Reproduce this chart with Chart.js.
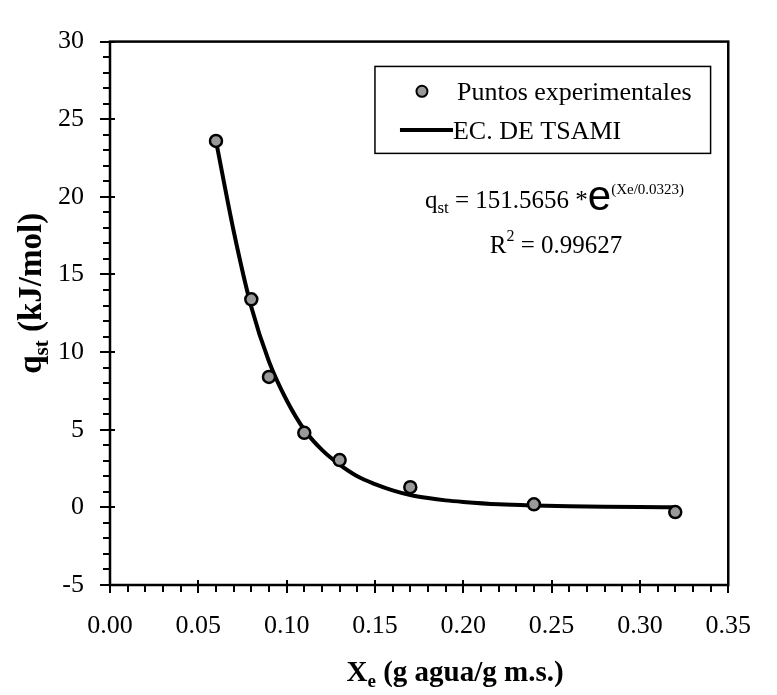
<!DOCTYPE html>
<html>
<head>
<meta charset="utf-8">
<script src="https://cdn.jsdelivr.net/npm/chart.js@4"></script>
<style>
  html, body { margin: 0; padding: 0; background: #fff; }
  #wrap { width: 777px; height: 695px; }
</style>
</head>
<body>
<div id="wrap"><canvas id="grafico" width="777" height="695"></canvas></div>
<script>
// puntos experimentales
const xPuntos = [0.06, 0.08, 0.09, 0.11, 0.13, 0.17, 0.24, 0.32];
const yPuntos = [23.6, 13.4, 8.4, 4.8, 3.05, 1.3, 0.2, -0.3];

// curva de Tsami
const xCurva = [0.06, 0.07, 0.08, 0.09, 0.10, 0.11, 0.12, 0.13, 0.14, 0.15, 0.16, 0.17, 0.18, 0.19, 0.20, 0.22, 0.24, 0.26, 0.28, 0.30, 0.32];
const yCurva = [23.6, 17.8, 12.9, 9.4, 6.9, 5.0, 3.7, 2.75, 2.0, 1.5, 1.1, 0.8, 0.6, 0.45, 0.35, 0.2, 0.12, 0.07, 0.04, 0.02, 0.01];

const xTicks = [0, 0.05, 0.10, 0.15, 0.20, 0.25, 0.30, 0.35];
const yTicks = [-5, 0, 5, 10, 15, 20, 25, 30];

const serif = "'Liberation Serif', 'Times New Roman', serif";

function partes(c, trozos) {
    // ancho total de una lista de [texto, fuente, desplazamiento]
    let w = 0;
    trozos.forEach(t => { c.font = t[1]; w += c.measureText(t[0]).width; });
    return w;
}

function escribir(c, trozos, x, y) {
    trozos.forEach(t => {
        c.font = t[1];
        c.fillText(t[0], x, y + t[2]);
        x += c.measureText(t[0]).width;
    });
}

const ejes = {
    id: "ejes",
    afterDraw(chart) {
        const c = chart.ctx;
        const a = chart.chartArea;
        const xs = chart.scales.x, ys = chart.scales.y;
        c.save();
        c.strokeStyle = "#000";
        c.fillStyle = "#000";

        // marco
        c.lineWidth = 2.5;
        c.strokeRect(a.left, a.top, a.right - a.left, a.bottom - a.top);

        // marcas del eje x
        c.lineWidth = 2;
        for (let i = 0; i <= 35; i++) {
            const px = Math.round(xs.getPixelForValue(i / 100));
            c.beginPath();
            if (i % 5 === 0) { c.moveTo(px, a.bottom - 5); c.lineTo(px, a.bottom + 8); }
            else { c.moveTo(px, a.bottom); c.lineTo(px, a.bottom + 7); }
            c.stroke();
        }
        // marcas del eje y
        for (let v = -5; v <= 30; v++) {
            const py = Math.round(ys.getPixelForValue(v));
            c.beginPath();
            if (v % 5 === 0) { c.moveTo(a.left - 10, py); c.lineTo(a.left + 5, py); }
            else { c.moveTo(a.left - 7, py); c.lineTo(a.left, py); }
            c.stroke();
        }

        // leyenda
        const lx = xs.getPixelForValue(0.15), rx = xs.getPixelForValue(0.34);
        const ty = ys.getPixelForValue(28.4), by = ys.getPixelForValue(22.8);
        c.lineWidth = 1.5;
        c.strokeRect(lx, ty, rx - lx, by - ty);
        c.font = "26px " + serif;
        c.textBaseline = "alphabetic";
        c.textAlign = "left";
        const fila1 = ys.getPixelForValue(26.8);
        const fila2 = ys.getPixelForValue(24.3);
        c.beginPath();
        c.arc(lx + 47, fila1, 5.5, 0, Math.PI * 2);
        c.fillStyle = "#999"; c.fill();
        c.lineWidth = 2; c.stroke();
        c.fillStyle = "#000";
        c.fillText(chart.data.datasets[0].label, lx + 82, fila1 + 9);
        c.lineWidth = 4;
        c.beginPath();
        c.moveTo(lx + 25, fila2); c.lineTo(lx + 78, fila2); c.stroke();
        c.fillText(chart.data.datasets[1].label, lx + 78, fila2 + 9);

        // ecuacion, alineada a la derecha con el texto de la leyenda
        const ecuacion = [
            ["q", "25px " + serif, 0],
            ["st", "17px " + serif, 5],
            [" = 151.5656 *", "25px " + serif, 0],
            ["e", "42px 'Liberation Sans', Arial, sans-serif", 2],
            ["(Xe/0.0323)", "15px " + serif, -14]
        ];
        const finEc = xs.getPixelForValue(0.325);
        escribir(c, ecuacion, finEc - partes(c, ecuacion), ys.getPixelForValue(19.3));

        const r2 = [
            ["R", "25px " + serif, 0],
            ["2", "16px " + serif, -12],
            [" = 0.99627", "25px " + serif, 0]
        ];
        const finR = xs.getPixelForValue(0.29);
        escribir(c, r2, finR - partes(c, r2), ys.getPixelForValue(16.4));

        // titulos de ejes
        const tx = [
            ["X", "bold 29px " + serif, 0],
            ["e", "bold 19px " + serif, 6],
            [" (g agua/g m.s.)", "bold 29px " + serif, 0]
        ];
        escribir(c, tx, (a.left + a.right) / 2 + 36 - partes(c, tx) / 2, 681);

        const tyl = [
            ["q", "bold 33px " + serif, 0],
            ["st", "bold 21px " + serif, 7],
            [" (kJ/mol)", "bold 33px " + serif, 0]
        ];
        c.translate(41, (a.top + a.bottom) / 2 - 20);
        c.rotate(-Math.PI / 2);
        escribir(c, tyl, -partes(c, tyl) / 2, 0);
        c.restore();
    }
};

new Chart(document.getElementById("grafico").getContext("2d"), {
    type: "scatter",
    data: {
        datasets: [{
            label: "Puntos experimentales",
            data: xPuntos.map((x, i) => ({ x: x, y: yPuntos[i] })),
            pointRadius: 6,
            pointBackgroundColor: "#999",
            pointBorderColor: "#000",
            pointBorderWidth: 2.5,
            order: 0
        }, {
            label: "EC. DE TSAMI",
            type: "line",
            data: xCurva.map((x, i) => ({ x: x, y: yCurva[i] })),
            borderColor: "#000",
            borderWidth: 4,
            pointRadius: 0,
            cubicInterpolationMode: "monotone",
            fill: false,
            order: 1
        }]
    },
    plugins: [ejes],
    options: {
        responsive: false,
        animation: false,
        layout: { padding: { left: 0, top: 22, right: 25, bottom: 0 } },
        plugins: { legend: { display: false }, tooltip: { enabled: false } },
        scales: {
            x: {
                type: "linear", min: 0, max: 0.35,
                afterBuildTicks: s => { s.ticks = xTicks.map(v => ({ value: v })); },
                afterFit: s => { s.height = 110; },
                grid: { display: false, drawTicks: false },
                border: { display: false },
                ticks: {
                    color: "#000", padding: 26,
                    font: { family: serif, size: 26 },
                    maxRotation: 0, autoSkip: false,
                    callback: v => v.toFixed(2)
                }
            },
            y: {
                type: "linear", min: -5, max: 30,
                afterBuildTicks: s => { s.ticks = yTicks.map(v => ({ value: v })); },
                afterFit: s => { s.width = 110; },
                grid: { display: false, drawTicks: false },
                border: { display: false },
                ticks: {
                    color: "#000", padding: 26,
                    font: { family: serif, size: 26 },
                    callback: v => String(v)
                }
            }
        }
    }
});
</script>
</body>
</html>
